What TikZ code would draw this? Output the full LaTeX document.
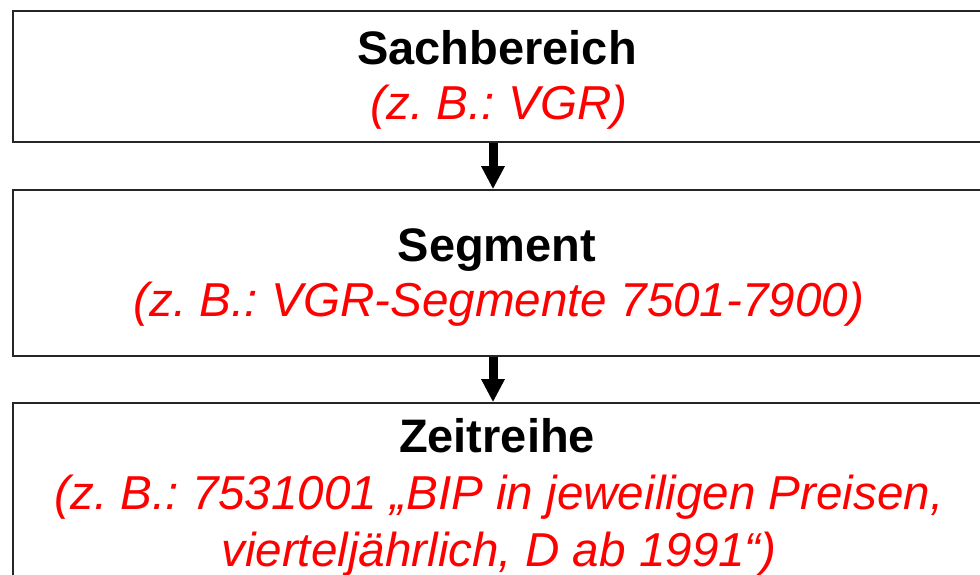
\documentclass[tikz,border=0pt]{standalone}
\usepackage{fontspec}
\setmainfont{Liberation Sans}
\usetikzlibrary{arrows.meta}
\frenchspacing
\definecolor{exred}{RGB}{255,0,0}
\tikzset{
  levelbox/.style={draw=black!85, line width=1.6pt, rectangle, minimum width=969pt, inner sep=0pt},
  title/.style={anchor=base, font=\fontsize{47}{56}\selectfont\bfseries, text=black, inner sep=0pt},
  example/.style={anchor=base, font=\fontsize{47.6}{57}\selectfont\itshape, text=exred, inner sep=0pt},
  bigarrow/.style={line width=9pt, -{Triangle[width=22pt,length=23pt]}}
}
\begin{document}
\begin{tikzpicture}[x=1pt,y=1pt]
\useasboundingbox (0,0) rectangle (980,575);
\clip (0,0) rectangle (980,575);
% the three levels of the hierarchy
\node[levelbox, minimum height=131pt] (b1) at (497.5,498.5) {};
\node[levelbox, minimum height=166pt] (b2) at (497.5,302) {};
\node[levelbox, minimum height=217pt] (b3) at (497.5,63.5) {};
% labels
\node[title] (t1) at (497,510) {Sachbereich};
\node[example] (e1) at (499,455) {(z. B.: VGR)};
\node[title] (t2) at (497,313) {Segment};
\node[example] (e2) at (499,258) {(z. B.: VGR-Segmente 7501-7900)};
\node[title] (t3) at (497,122) {Zeitreihe};
\node[example] (e3a) at (499,65) {(z. B.: 7531001 „BIP in jeweiligen Preisen,};
\node[example] (e3b) at (499,8) {vierteljährlich, D ab 1991“)};
% connecting arrows
\coordinate (ax) at (493,0);
\draw[bigarrow] (b1.south -| ax) -- (b2.north -| ax);
\draw[bigarrow] (b2.south -| ax) -- (b3.north -| ax);
\end{tikzpicture}
\end{document}
